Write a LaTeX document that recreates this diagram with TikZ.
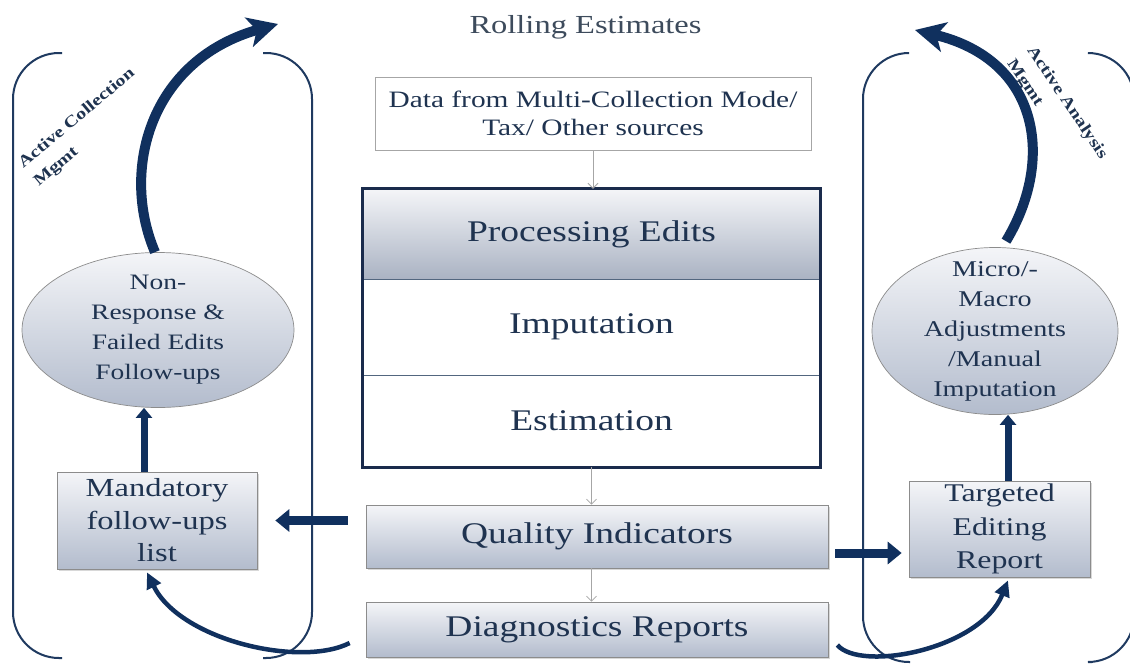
\documentclass[tikz,border=0pt]{standalone}
\usepackage{fontspec}
\setmainfont{Liberation Serif}[FakeStretch=1.25]
\usepackage{xcolor}
\usetikzlibrary{positioning,calc,shapes.geometric,arrows.meta,shadows}
\definecolor{navy}{HTML}{10305E}
\definecolor{frame}{HTML}{1A2B4C}
\definecolor{ink}{HTML}{1F3350}
\definecolor{titleink}{HTML}{3D4B5C}
\definecolor{bracketc}{HTML}{1F3A60}
\definecolor{boxtop}{HTML}{F4F5F8}
\definecolor{boxbot}{HTML}{B3BCCD}
\definecolor{edgegray}{HTML}{8C8C8C}
\definecolor{datagray}{HTML}{A6A6A6}
\definecolor{sepline}{HTML}{52667F}

\begin{document}
\begin{tikzpicture}[x=1pt,y=-1pt,
    stepbox/.style={draw=edgegray,line width=0.7pt,top color=boxtop,bottom color=boxbot,
      text=ink,align=center,inner sep=0pt,
      drop shadow={opacity=0.3,shadow xshift=1.5pt,shadow yshift=-1.5pt}},
    oval/.style={ellipse,draw=edgegray,line width=0.7pt,top color=boxtop,bottom color=boxbot,inner sep=0pt},
    ovaltext/.style={text=ink,align=center,font=\fontsize{22}{30}\selectfont},
    thinarrow/.style={draw=gray!70,line width=0.8pt,-{Straight Barb[length=5pt,width=10pt]}},
    fatarrow/.style={draw=navy,line width=9pt,-{Triangle[length=14pt,width=22pt]}},
    uparrow/.style={draw=navy,line width=7pt,-{Triangle[length=10pt,width=16pt]}},
    bendarrow/.style={draw=navy,line width=4.5pt,-{Triangle[length=16pt,width=15pt]}},
    looparrow/.style={draw=navy,line width=10pt,-{Stealth[length=30pt,width=30pt,inset=8pt]}},
    bracket/.style={draw=bracketc,line width=2pt,rounded corners=46pt},
    tag/.style={text=ink,font=\bfseries\fontsize{16}{24}\selectfont,align=left,inner sep=0pt}]

    % page
    \fill[white] (0,0) rectangle (1130,665);
    \useasboundingbox (0,0) rectangle (1130,665);

    % brackets round the two loops
    \draw[bracket] (62,53) -| (13,658) -- (62,658);
    \draw[bracket] (263,53) -| (312,658) -- (263,658);
    \draw[bracket] (908,53) -| (863,662) -- (910,662);
    \draw[bracket] (1090,53) -| (1134,662) -- (1092,662);

    % title and input
    \node[text=titleink,font=\fontsize{26}{30}\selectfont] (title) at (585.5,27) {Rolling Estimates};
    \node[draw=datagray,fill=white,line width=0.8pt,minimum width=436pt,minimum height=73pt,
      align=center,text=ink,font=\fontsize{23.5}{28}\selectfont] (data) at (593,113.5)
      {Data from Multi-Collection Mode/\\Tax/ Other sources};

    % main processing block
    \node[inner sep=0pt,minimum width=457pt,minimum height=90pt,top color=boxtop,bottom color=boxbot!95!black,
      text=ink,font=\fontsize{30}{36}\selectfont] (proc) at (591.5,234) {Processing Edits};
    \node[inner sep=0pt,minimum width=457pt,minimum height=96pt,fill=white,
      text=ink,font=\fontsize{30}{36}\selectfont] (imput) at (591.5,327) {Imputation};
    \node[inner sep=0pt,minimum width=457pt,minimum height=92pt,fill=white,
      text=ink,font=\fontsize{30}{36}\selectfont] (estim) at (591.5,421) {Estimation};
    \draw[sepline,line width=1pt] (proc.south west) -- (proc.south east);
    \draw[sepline,line width=0.8pt] (imput.south west) -- (imput.south east);
    \draw[frame,line width=3pt] (proc.north west) rectangle (estim.south east);

    % outputs
    \node[stepbox,minimum width=462pt,minimum height=63pt,font=\fontsize{30}{36}\selectfont] (quality) at (597,536.5) {Quality Indicators};
    \node[stepbox,minimum width=462pt,minimum height=55pt,font=\fontsize{30}{36}\selectfont] (diag) at (597,629.5) {Diagnostics Reports};

    % left loop
    \node[stepbox,minimum width=200pt,minimum height=97pt,font=\fontsize{26}{32.5}\selectfont] (mand) at (157,520.5) {Mandatory\\follow-ups\\list};
    \node[oval,minimum width=272pt,minimum height=155pt,
      label={[ovaltext]center:{Non-\\Response \&\\Failed Edits\\Follow-ups}}] (lell) at (158,330) {};
    \node[tag,rotate=40,anchor=north west] (colltag) at (16,160) {Active Collection\\Mgmt};

    % right loop
    \node[stepbox,minimum width=181pt,minimum height=96pt,font=\fontsize{25.5}{33.5}\selectfont] (targ) at (999.5,529) {Targeted\\Editing\\Report};
    \node[oval,minimum width=246pt,minimum height=167pt,
      label={[ovaltext,font=\fontsize{22.5}{30}\selectfont]center:{Micro/-\\Macro\\Adjustments\\/Manual\\Imputation}}] (rell) at (995,331) {};
    \node[tag,rotate=-56,anchor=north west] (anatag) at (1036,44) {Active Analysis\\Mgmt};

    % thin flow arrows
    \draw[thinarrow] (data.south) -- (data.south |- proc.north);
    \draw[thinarrow] (estim.south) -- (estim.south |- quality.north);
    \draw[thinarrow] (quality.south -| estim.south) -- (estim.south |- diag.north);

    % thick arrows
    \draw[fatarrow] ([shift={(-18,0)}]quality.west |- mand.east) -- ([shift={(18,0)}]mand.east);
    \draw[fatarrow] ([shift={(7,16.5)}]quality.east) -- ([shift={(-7,16.5)}]quality.east -| targ.west);
    \draw[uparrow] ([shift={(-13,0)}]mand.north) -- ([shift={(-13,0)}]mand.north |- lell.south);
    \draw[uparrow] ([shift={(8.5,0)}]targ.north) -- ([shift={(8.5,0)}]targ.north |- rell.south);

    % curved feedback arrows
    \draw[bendarrow] ([shift={(-16,13.5)}]diag.west) .. controls (300,668) and (180,640) .. ([shift={(-10,3)}]mand.south);
    \draw[bendarrow] ([shift={(9,15.5)}]diag.east) .. controls (860,672) and (980,650) .. ([shift={(8.5,3)}]targ.south);

    % loop arrows out of the ellipses
    \coordinate (collTip) at (278,24);
    \coordinate (anaTip) at (915,30);
    \draw[looparrow] ([shift={(-3,0)}]lell.north) .. controls (120,170) and (150,60) .. (collTip);
    \draw[looparrow] ([shift={(11,-6)}]rell.north) .. controls (1055,160) and (1040,60) .. (anaTip);
\end{tikzpicture}
\end{document}
